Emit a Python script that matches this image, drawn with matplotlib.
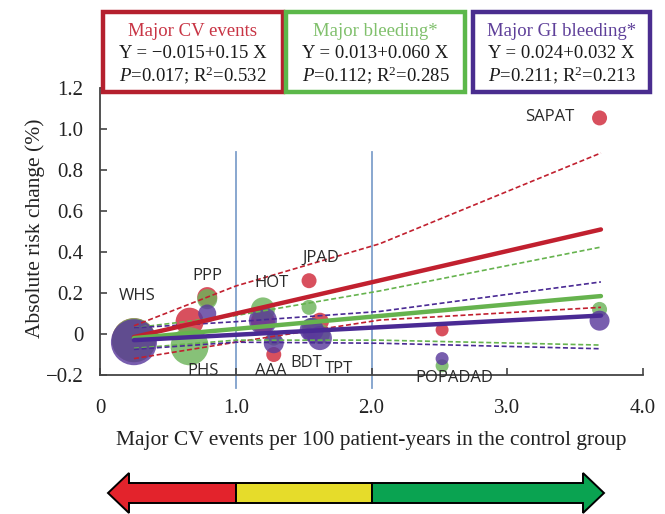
import numpy as np
import matplotlib
matplotlib.use("Agg")
import matplotlib.pyplot as plt
from matplotlib.patches import Rectangle, Polygon

plt.rcParams['mathtext.fontset'] = 'custom'
plt.rcParams['mathtext.rm'] = 'Liberation Serif'
plt.rcParams['mathtext.it'] = 'Liberation Serif:italic'

# ---------------- data ----------------
studies = ["WHS", "PHS", "PPP", "HOT", "AAA", "JPAD", "BDT", "TPT", "POPADAD", "SAPAT"]
control_rate = [0.25, 0.66, 0.79, 1.20, 1.28, 1.54, 1.56, 1.62, 2.52, 3.68]

cv_change = [-0.03, 0.06, 0.18, 0.06, -0.10, 0.26, 0.02, 0.06, 0.02, 1.054]
cv_radius = [22, 14, 10, 12, 7.5, 7.5, 9, 9, 6.5, 7.5]

bleed_change = [-0.03, -0.06, 0.17, 0.12, -0.02, 0.13, 0.03, 0.0, -0.155, 0.12]
bleed_radius = [22, 19, 10, 12, 7.5, 7.5, 10, 10, 6.5, 7.5]

gi_change = [-0.04, np.nan, 0.10, 0.065, -0.045, 0.0, 0.02, -0.02, -0.12, 0.065]
gi_radius = [23, 10, 9, 14, 10, 6.5, 12, 12, 6.5, 10]

fit_x = [0.25, 3.69]
cv_fit = [-0.015, 0.51]
bleed_fit = [-0.02, 0.185]
gi_fit = [-0.03, 0.09]

band_x = [0.25, 1.0, 2.06, 3.69]
cv_upper = [0.04, 0.234, 0.44, 0.883]
cv_lower = [-0.12, -0.04, 0.068, 0.13]
bleed_upper = [0.03, 0.09, 0.21, 0.424]
bleed_lower = [-0.07, -0.03, -0.03, -0.054]
gi_upper = [0.03, 0.06, 0.11, 0.254]
gi_lower = [-0.075, -0.04, -0.045, -0.072]

box_titles = ["Major CV events", "Major bleeding*", "Major GI bleeding*"]
box_eqs = ["Y = \u22120.015+0.15 X", "Y = 0.013+0.060 X", "Y = 0.024+0.032 X"]
box_stats = [r"$P$=0.017; R$^2$=0.532", r"$P$=0.112; R$^2$=0.285", r"$P$=0.211; R$^2$=0.213"]

x_ticks = [0, 1.0, 2.0, 3.0, 4.0]
x_ticklabels = ["0", "1.0", "2.0", "3.0", "4.0"]
y_ticks = [-0.2, 0, 0.2, 0.4, 0.6, 0.8, 1.0, 1.2]
y_ticklabels = ["\u22120.2", "0", "0.2", "0.4", "0.6", "0.8", "1.0", "1.2"]
thresholds = [1.0, 2.0]

# label positions (layout)
label_pos = {"WHS": (0.27, 0.185), "PPP": (0.79, 0.283), "PHS": (0.76, -0.18),
             "HOT": (1.26, 0.25), "JPAD": (1.63, 0.37), "AAA": (1.26, -0.18),
             "BDT": (1.52, -0.14), "TPT": (1.76, -0.17), "POPADAD": (2.61, -0.215),
             "SAPAT": (3.31, 1.06)}

# ---------------- figure ----------------
W, H = 665, 514
fig = plt.figure(figsize=(W / 100, H / 100), dpi=100)
ax = fig.add_axes([100 / W, (H - 375) / H, 543 / W, 287 / H])
ax.set_xlim(0, 4.0)
ax.set_ylim(-0.2, 1.2)

serif = "Liberation Serif"
sans = "Open Sans"

red_pt, green_pt, purple_pt = "#d02a3a", "#6db45a", "#5a3a9c"
red_ln, green_ln, purple_ln = "#c1202f", "#66b34e", "#4a2a94"

def rad2s(r):
    return (2 * r * 0.72) ** 2

for ys, rs, c in [(cv_change, cv_radius, red_pt), (bleed_change, bleed_radius, green_pt),
                  (gi_change, gi_radius, purple_pt)]:
    ax.scatter(control_rate, ys, s=[rad2s(r) for r in rs], color=c, alpha=0.82,
               edgecolors='none', zorder=2)

for yu, yl, c in [(cv_upper, cv_lower, red_ln), (bleed_upper, bleed_lower, green_ln),
                  (gi_upper, gi_lower, purple_ln)]:
    ax.plot(band_x, yu, ls=(0, (3, 1.6)), lw=1.2, color=c, zorder=3)
    ax.plot(band_x, yl, ls=(0, (3, 1.6)), lw=1.2, color=c, zorder=3)

ax.plot(fit_x, cv_fit, lw=3.2, color=red_ln, zorder=4, solid_capstyle='round')
ax.plot(fit_x, bleed_fit, lw=3.2, color=green_ln, zorder=4, solid_capstyle='round')
ax.plot(fit_x, gi_fit, lw=3.2, color=purple_ln, zorder=4, solid_capstyle='round')

for t in thresholds:
    ax.plot([t, t], [0.89, -0.265], color="#7fa0cc", lw=1.3, zorder=1, clip_on=False)

for s in studies:
    x, y = label_pos[s]
    ax.text(x, y, s, family=sans, fontsize=12, color="#2a2a2a", ha='center', va='center', zorder=6)

for sp in ['top', 'right']:
    ax.spines[sp].set_visible(False)
for sp in ['left', 'bottom']:
    ax.spines[sp].set_color("#444444")
    ax.spines[sp].set_linewidth(1.3)

ax.set_xticks(x_ticks)
ax.set_xticklabels(x_ticklabels, family=serif, fontsize=15)
ax.set_yticks(y_ticks)
ax.set_yticklabels(y_ticklabels, family=serif, fontsize=15)
ax.tick_params(axis='both', direction='in', length=5, width=1.2, color="#444444", labelcolor="#222222")
ax.tick_params(axis='y', pad=12)
ax.tick_params(axis='x', pad=17)

fig.text(371 / W, 1 - 441 / H, "Major CV events per 100 patient-years in the control group",
         family=serif, fontsize=15.5, color="#222222", ha='center', va='center')
fig.text(35 / W, 1 - 228 / H, "Absolute risk change (%)", family=serif, fontsize=15.5,
         color="#222222", ha='center', va='center', rotation=90)

# ---------------- top boxes ----------------
boxes = [(103, 283), (286, 465), (473, 650)]
edge_cols = ["#b5202e", "#5cb84a", "#4a2d8f"]
title_cols = ["#c83444", "#80c06c", "#5e3f99"]
for (x0, x1), ec, tc, t1, t2, t3 in zip(boxes, edge_cols, title_cols, box_titles, box_eqs, box_stats):
    fig.patches.append(Rectangle((x0 / W, 1 - 92 / H), (x1 - x0) / W, 80 / H,
                                 transform=fig.transFigure, fill=True, facecolor='white',
                                 edgecolor=ec, lw=3.2))
    xc = (x0 + x1) / 2 / W
    fig.text(xc, 1 - 31 / H, t1, family=serif, fontsize=13.5, color=tc, ha='center', va='center')
    fig.text(xc, 1 - 53 / H, t2, family=serif, fontsize=13.5, color="#1a1a1a", ha='center', va='center')
    fig.text(xc, 1 - 75 / H, t3, family=serif, fontsize=13.5, color="#1a1a1a", ha='center', va='center')

# ---------------- bottom arrow ----------------
yc, bh, hh = 493, 10, 20
def fy(p):
    return 1 - p / H
def fx(p):
    return p / W
lt, lb, rb, rt = 108, 129, 583, 604
xa, xb = 236, 372
red_poly = [(lt, yc), (lb, yc - hh), (lb, yc - bh), (xa, yc - bh), (xa, yc + bh), (lb, yc + bh), (lb, yc + hh)]
yel_poly = [(xa, yc - bh), (xb, yc - bh), (xb, yc + bh), (xa, yc + bh)]
grn_poly = [(xb, yc - bh), (rb, yc - bh), (rb, yc - hh), (rt, yc), (rb, yc + hh), (rb, yc + bh), (xb, yc + bh)]
for poly, col in [(red_poly, "#e3232c"), (yel_poly, "#e6dc2a"), (grn_poly, "#0aa351")]:
    fig.patches.append(Polygon([(fx(a), fy(b)) for a, b in poly], closed=True,
                               transform=fig.transFigure, facecolor=col, edgecolor='black', lw=1.4))

fig.savefig("out.png", dpi=100)
